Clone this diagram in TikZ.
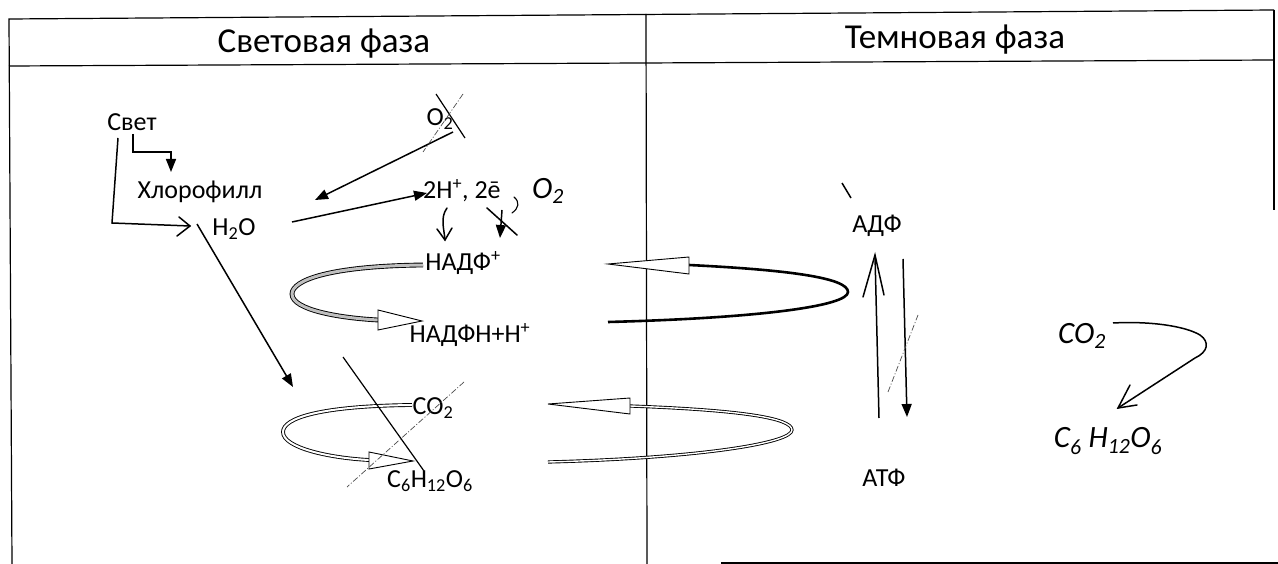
\documentclass[tikz,border=0pt]{standalone}
\usepackage{fontspec}
\setmainfont{Carlito}
\usetikzlibrary{arrows.meta}
\begin{document}
\begin{tikzpicture}[x=1pt,y=-1pt,
  txt/.style={inner sep=0pt, font=\fontsize{26}{28}\selectfont},
  hd/.style={inner sep=0pt, font=\fontsize{35}{38}\selectfont},
  hand/.style={inner sep=0pt, font=\fontsize{31}{33}\selectfont\itshape},
  frame/.style={line width=1.2pt},
  ln/.style={line width=1.5pt},
  band/.style={double=white, double distance=2.6pt, line width=0.9pt},
  gband/.style={double=black!25, double distance=3pt, line width=0.9pt},
  head/.style={draw, fill=white, line width=0.9pt, line join=miter},
  fillarr/.style={-{Triangle[length=13pt,width=10pt]}, line width=1.5pt},
  barb/.style={line width=1.5pt, line cap=round},
  faint/.style={line width=0.7pt, dash pattern=on 6pt off 2pt on 1pt off 2pt, black!70},
]
\useasboundingbox (0,0) rectangle (1278,564);
% frame
\draw[frame] (1274,10) -- (9,19) -- (12,564);
\draw[frame] (9,66) -- (1274,60);
\draw[frame] (1274,10) -- (1274,210);
\draw[frame] (646,14) -- (647,564);
\draw[frame] (721,563) -- (1278,563);
% headers
\node[hd] (h1) at (324,44) {Световая фаза};
\node[hd] (h2) at (955,40) {Темновая фаза};
% light phase texts
\node[txt] (svet) at (132,122) {Свет};
\node[txt] (chl) at (200,192) {Хлорофилл};
\node[txt] (h2o) at (234,229) {H\textsubscript{2}O};
\node[txt] (o2x) at (440,119) {O\textsubscript{2}};
\node[txt, anchor=west] (hpe) at (423,191) {2H\textsuperscript{+}, 2ē};
\node[hand] (o2h) at (548,191) {O\textsubscript{2}};
\node[txt] (nadf) at (463,263) {НАДФ\textsuperscript{+}};
\node[txt] (nadfh) at (470,335) {НАДФН+Н\textsuperscript{+}};
\node[txt] (co2) at (433,408) {CO\textsubscript{2}};
\node[txt] (glu) at (430,481) {C\textsubscript{6}H\textsubscript{12}O\textsubscript{6}};
% dark phase texts
\node[txt] (adf) at (877,226) {АДФ};
\node[txt] (atf) at (884,478) {АТФ};
\node[hand] (co2h) at (1082,336) {CO\textsubscript{2}};
\node[hand] (gluh) at (1108,441) {C\textsubscript{6} H\textsubscript{12}O\textsubscript{6}};

% Svet -> Chlorophyll (elbow)
\coordinate (s1) at (133,134);
\coordinate (c1) at (171,172);
\draw[fillarr] (s1) -- (133,152) -- (171,152) -- (c1);
% Svet -> H2O (elbow, hand arrow)
\coordinate (s2) at (118,138);
\coordinate (w1) at (190,226);
\draw[ln] (s2) -- (112,223) -- (w1);
\draw[barb] (179,217) -- (w1) -- (177,236);
% H2O -> 2H+
\coordinate (w2) at (292,222);
\coordinate (p1) at (427,193);
\draw[fillarr] (w2) -- (p1);
% O2 -> Chlorophyll
\coordinate (o1) at (453,132);
\coordinate (c2) at (315,200);
\draw[fillarr] (o1) -- (c2);
% cross on O2
\draw[ln, line width=1.2pt] (436,94) -- (465,138);
\draw[faint] (463,94) -- (423,152);
% 2H+ -> NADF+
\coordinate (p2) at (447,208);
\coordinate (n1) at (445,240);
\draw[barb] (p2) .. controls (440,218) and (444,228) .. (n1);
\draw[barb] (437,229) -- (n1) -- (452,228);
% hand comma
\draw[line width=1.1pt, line cap=round] (514,197) .. controls (520,202) and (519,208) .. (512,213);
% 2e -> (crossed arrow)
\coordinate (p3) at (502,210);
\coordinate (n2) at (500,238);
\draw[fillarr] (p3) -- (n2);
\draw[barb] (487,208) -- (517,235);

% H2O -> cycle
\coordinate (w3) at (197,224);
\coordinate (k1) at (293,387);
\draw[fillarr] (w3) -- (k1);

% upper left spiral
\coordinate (ul1) at (423,265);
\coordinate (ul2) at (378,320);
\coordinate (ult) at (422,321);
\draw[gband] (ul1) .. controls (330,266) and (292,280) .. (292,294)
  .. controls (292,310) and (340,318) .. (ul2);
\draw[head] (ult) -- (378,310) -- (378,330) -- cycle;
% lower left spiral
\coordinate (ll1) at (412,405);
\coordinate (ll2) at (369,460);
\coordinate (llt) at (413,461);
\draw[band, double distance=2pt] (ll1) .. controls (320,406) and (283,418) .. (283,432)
  .. controls (283,448) and (330,458) .. (ll2);
\draw[head] (llt) -- (369,452) -- (369,469) -- cycle;
% upper right spiral
\coordinate (ur1) at (689,265);
\coordinate (ur2) at (608,322);
\coordinate (urt) at (608,264);
\draw[line width=2.6pt] (ur1) .. controls (790,270) and (848,278) .. (848,292)
  .. controls (848,306) and (760,318) .. (ur2);
\draw[head] (urt) -- (689,257) -- (689,274) -- cycle;
% lower right spiral
\coordinate (lr1) at (630,406);
\coordinate (lr2) at (548,462);
\coordinate (lrt) at (548,404);
\draw[band, double distance=1.4pt] (lr1) .. controls (740,410) and (792,418) .. (792,430)
  .. controls (792,443) and (700,458) .. (lr2);
\draw[head] (lrt) -- (630,398) -- (630,414) -- cycle;

% crossing lines over CO2 / glucose
\coordinate (x1) at (343,357);
\coordinate (x2) at (424,471);
\draw[line width=1.2pt] (x1) -- (x2);
\coordinate (x3) at (464,382);
\coordinate (x4) at (347,487);
\draw[faint] (x3) -- (x4);

% ADF / ATF arrows
\coordinate (tk1) at (842,183);
\coordinate (tk2) at (851,198);
\draw[ln] (tk1) -- (tk2);
\coordinate (a1) at (879,418);
\coordinate (a2) at (875,255);
\draw[ln] (a1) -- (a2);
\draw[barb] (863,297) -- (a2) -- (884,295);
\coordinate (d1) at (903,259);
\coordinate (d2) at (907,417);
\draw[fillarr] (d1) -- (d2);
\draw[faint] (888,392) -- (918,315);

% hand arrow CO2 -> C6H12O6
\coordinate (hc1) at (1113,323);
\coordinate (hc2) at (1118,408);
\draw[ln] (hc1) .. controls (1150,321) and (1185,326) .. (1200,335)
  .. controls (1210,342) and (1208,352) .. (1195,358) -- (hc2);
\draw[barb] (1130,385) -- (hc2) -- (1137,405);
\end{tikzpicture}
\end{document}
